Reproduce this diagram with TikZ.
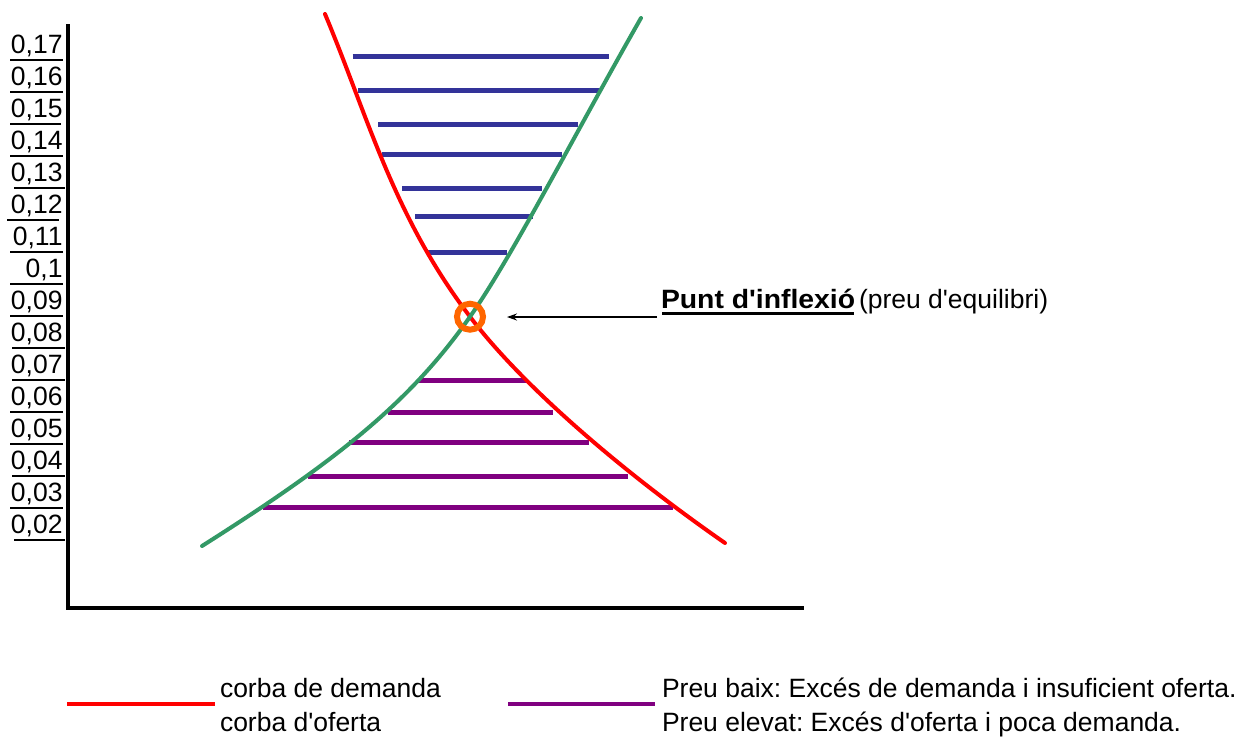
\documentclass[tikz,border=0pt]{standalone}
\usepackage{fontspec}
\setmainfont{Liberation Sans}
\usetikzlibrary{arrows.meta}
\definecolor{demcol}{HTML}{FF0000}
\definecolor{supcol}{HTML}{339966}
\definecolor{hicol}{HTML}{333399}
\definecolor{locol}{HTML}{800080}
\definecolor{eqcol}{HTML}{FF6600}
\frenchspacing
\begin{document}
\begin{tikzpicture}[x=0.5pt,y=-0.5pt,
  lbl/.style={font=\fontsize{13.25}{16}\selectfont, inner sep=0pt, outer sep=0pt},
  axisline/.style={line width=2pt, black},
  demand/.style={demcol, line width=2pt, line cap=round},
  supply/.style={supcol, line width=2pt, line cap=round},
  hibar/.style={hicol, line width=2.5pt},
  lobar/.style={locol, line width=2.5pt},
  tickline/.style={black, line width=0.9pt}]
\useasboundingbox (0,0) rectangle (1255,736);

% axes
\draw[axisline] (67.5,24) -- (67.5,610);
\draw[axisline] (66,608) -- (804,608);

% axis labels with underlines
\foreach \t/\a/\b [count=\i from 0] in {{0,17}/10/63,{0,16}/10/63,{0,15}/10/61,{0,14}/10/63,{0,13}/14/65,{0,12}/7/59,{0,11}/10/63,{0,1}/10/63,{0,09}/10/63,{0,08}/12/65,{0,07}/12/65,{0,06}/10/63,{0,05}/10/63,{0,04}/12/65,{0,03}/10/63,{0,02}/14/65}{
  \node[lbl, anchor=base east] (yl\i) at (62.5,{53.3+32*\i}) {\t};
  \draw[tickline] (\a,{53.3+32*\i+6.5}) -- (\b,{53.3+32*\i+6.5});
}

% high price bars (blue)
\draw[hibar] (352.7,56.7) -- (609,56.7);
\draw[hibar] (358,90.7) -- (600,90.7);
\draw[hibar] (378,124) -- (578,124);
\draw[hibar] (381.7,154.7) -- (561.7,154.7);
\draw[hibar] (402,188) -- (541.7,188);
\draw[hibar] (415,216.7) -- (532.7,216.7);
\draw[hibar] (428,252.3) -- (506.7,252.3);

% low price bars (purple)
\draw[lobar] (419,380.7) -- (527,380.7);
\draw[lobar] (387.7,412.7) -- (552.7,412.7);
\draw[lobar] (349,442.7) -- (589,442.7);
\draw[lobar] (308,476.7) -- (627.7,476.7);
\draw[lobar] (262.7,507) -- (673.3,507);

% equilibrium point
\coordinate (cross) at (470,316.7);

% demand curve (red)
\draw[demand] (325,14) .. controls (367.4,115) and (393.2,216) .. (cross)
                       .. controls (523.2,387) and (624.2,473) .. (725,543);

% supply curve (green)
\draw[supply] (202,546) .. controls (336.3,461) and (410.5,402) .. (cross)
                        .. controls (512,257) and (572.6,138) .. (641,18);

% equilibrium marker
\node[circle, draw=eqcol, line width=3pt, minimum size=13pt, inner sep=0pt] (eq) at (cross) {};

% annotation
\node[lbl, anchor=base west] (punt) at (661,308.5) {\scalebox{1.07}[1]{\bfseries Punt d\textquotesingle inflexió}};
\draw[black, line width=1.6pt] (662,313.8) -- (854,313.8);
\node[lbl, anchor=base west] (preu) at (859,308.5) {(preu d\textquotesingle equilibri)};
\coordinate (arrtail) at (657,317);
\coordinate (arrtip) at (507,317);
\draw[black, line width=0.75pt, -{Stealth[length=5pt,width=3.5pt]}] (arrtail) -- (arrtip);

% legend
\draw[demand, line cap=butt] (67,704) -- (215,704);
\draw[lobar, line width=2pt] (508,704) -- (655,704);
\node[lbl, anchor=base west] (lg1) at (220,697.7) {corba de demanda};
\node[lbl, anchor=base west] (lg2) at (220,731.5) {corba d\textquotesingle oferta};
\node[lbl, anchor=base west] (lg3) at (662,697.7) {Preu baix: Excés de demanda i insuficient oferta.};
\node[lbl, anchor=base west] (lg4) at (662,731.5) {Preu elevat: Excés d\textquotesingle oferta i poca demanda.};
\end{tikzpicture}
\end{document}
